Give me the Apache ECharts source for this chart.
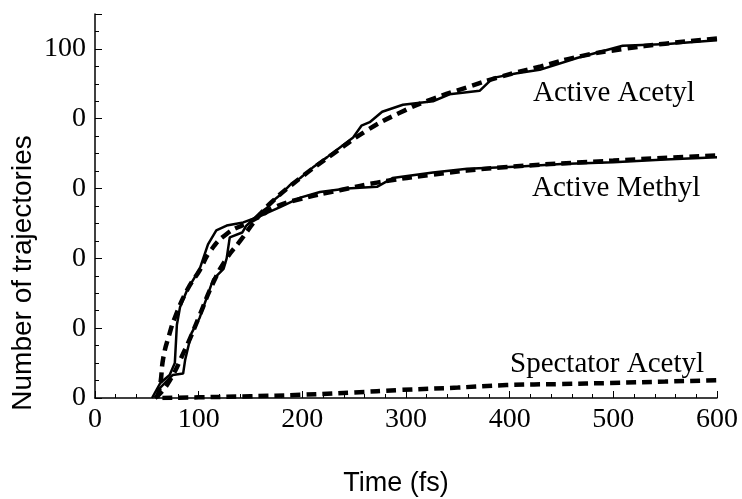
<!DOCTYPE html>
<html>
<head>
<meta charset="utf-8">
<script src="https://cdn.jsdelivr.net/npm/echarts@6/dist/echarts.min.js"></script>
<style>
  html, body { margin: 0; padding: 0; background: #fff; }
  #chart { width: 742px; height: 499px; }
</style>
</head>
<body>
<div id="chart"></div>
<script>
// x ticks and y tick labels as printed
var xTicks = [0, 100, 200, 300, 400, 500, 600];
var yTickLabels = { 0: "0", 20: "0", 40: "0", 60: "0", 80: "0", 100: "100" };

// [time (fs), number of trajectories]
var acetylData = [[58,0],[63,3],[75,6.6],[85,7],[87,11],[93,18.5],[101,23],[114,34],[124,37],[127,40],[130,46],[142,47.4],[146,49.4],[159,53],[166,54.5],[172,56.6],[178,58],[188,61],[198,63],[210,66],[224,69],[236,71.7],[249,74.6],[257,78],[265,79],[277,82],[297,84],[326,85],[342,87],[371,88],[384,91.7],[407,93],[429,94],[465,97.4],[509,100.9],[552,101.4],[600,102.5]];
var acetylFit = [[58,0],[70,4],[87,14],[100,23],[114,33],[127,40],[140,45],[155,51],[170,56],[198,63],[230,70],[262,76.6],[294,81.7],[326,85.7],[359,89],[391,92],[430,95],[470,98],[510,100],[550,101.5],[600,103]];
var methylData = [[55,0],[63,4.3],[72,6.6],[77,10],[79,21],[82,26],[89,31],[101,37],[109,44],[117,48],[127,49.4],[143,50.3],[156,51.7],[166,53],[178,54.6],[198,57.4],[217,59],[243,60],[272,60.5],[287,63],[326,64.6],[359,65.7],[410,66.3],[450,67],[500,67.5],[550,68.3],[600,69]];
var methylFit = [[60,0],[63,4],[66,11.7],[72,18.5],[77,23],[89,31],[101,36.6],[111,42],[127,47],[146,50],[159,52],[172,54.5],[198,57],[236,59.5],[272,61.7],[326,64],[391,66],[500,68],[600,69.5]];
var spectatorFit = [[65,0],[100,0.2],[150,0.5],[198,0.9],[250,1.6],[294,2.3],[350,3.0],[397,3.7],[450,4.0],[497,4.3],[550,4.7],[600,5.1]];

var chart = echarts.init(document.getElementById("chart"));

var solid = function (data) {
  return {
    type: "line", data: data, symbol: "none", xAxisIndex: 0, yAxisIndex: 0,
    lineStyle: { color: "#000", width: 2.5 }
  };
};
var dashed = function (data) {
  return {
    type: "line", data: data, symbol: "none", smooth: true, xAxisIndex: 0, yAxisIndex: 0,
    lineStyle: { color: "#000", width: 4.5, type: [10, 6] }
  };
};

var option = {
  animation: false,
  grid: { left: 95, right: 25, top: 14, bottom: 101 },
  xAxis: [
    {
      type: "value", min: 0, max: 600, interval: 100,
      axisLine: { lineStyle: { color: "#000", width: 1.5 } },
      axisTick: { inside: true, length: 7, lineStyle: { color: "#000" } },
      minorTick: { show: true, splitNumber: 5, length: 4, lineStyle: { color: "#000" } },
      splitLine: { show: false },
      axisLabel: {
        margin: 8, color: "#000", fontFamily: "Liberation Serif", fontSize: 28,
        customValues: xTicks
      }
    }
  ],
  yAxis: [
    {
      type: "value", min: 0, max: 110, interval: 5,
      axisLine: { show: true, lineStyle: { color: "#000", width: 1.5 } },
      axisTick: { inside: true, length: 4, lineStyle: { color: "#000" } },
      splitLine: { show: false },
      axisLabel: {
        margin: 9, color: "#000", fontFamily: "Liberation Serif", fontSize: 28,
        formatter: function (v) { return yTickLabels[v] !== undefined ? yTickLabels[v] : ""; }
      }
    },
    {
      type: "value", min: 0, max: 110, interval: 20, position: "left",
      axisLine: { show: false },
      axisTick: { show: true, inside: true, length: 7, lineStyle: { color: "#000" } },
      splitLine: { show: false },
      axisLabel: { show: false }
    }
  ],
  graphic: [
    { type: "text", x: 533, y: 93, style: { text: "Active Acetyl", fill: "#000", font: "29px 'Liberation Serif'", textVerticalAlign: "middle" } },
    { type: "text", x: 532, y: 188, style: { text: "Active Methyl", fill: "#000", font: "29px 'Liberation Serif'", textVerticalAlign: "middle" } },
    { type: "text", x: 510, y: 364, style: { text: "Spectator Acetyl", fill: "#000", font: "29px 'Liberation Serif'", textVerticalAlign: "middle" } },
    { type: "text", x: 396, y: 484, style: { text: "Time (fs)", fill: "#000", font: "27px 'Liberation Sans'", textAlign: "center", textVerticalAlign: "middle" } },
    { type: "text", x: 23, y: 273, rotation: Math.PI / 2, style: { text: "Number of trajectories", fill: "#000", font: "28px 'Liberation Sans'", textAlign: "center", textVerticalAlign: "middle" } }
  ],
  series: [
    solid(acetylData),
    dashed(acetylFit),
    solid(methylData),
    dashed(methylFit),
    dashed(spectatorFit)
  ]
};

chart.setOption(option);
</script>
</body>
</html>
